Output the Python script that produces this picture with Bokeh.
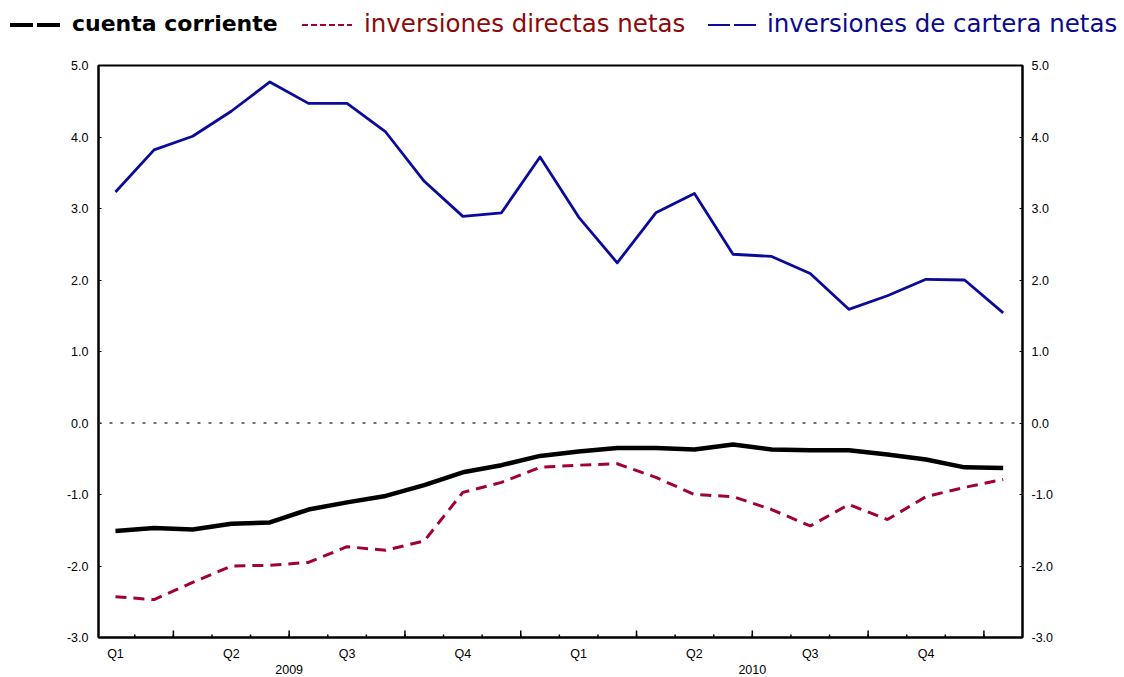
from bokeh.plotting import figure
from bokeh.models import (Range1d, LinearAxis, FixedTicker, PrintfTickFormatter,
                          Span, Div)
from bokeh.layouts import column
from bokeh.embed import file_html
from bokeh.resources import INLINE
import numpy as np

# ---------------- data ----------------
months = ["2009-01", "2009-02", "2009-03", "2009-04", "2009-05", "2009-06",
          "2009-07", "2009-08", "2009-09", "2009-10", "2009-11", "2009-12",
          "2010-01", "2010-02", "2010-03", "2010-04", "2010-05", "2010-06",
          "2010-07", "2010-08", "2010-09", "2010-10", "2010-11", "2010-12"]

cuenta_corriente = [-1.51, -1.47, -1.49, -1.41, -1.39, -1.21, -1.11, -1.02,
                    -0.87, -0.69, -0.59, -0.46, -0.40, -0.35, -0.35, -0.37,
                    -0.30, -0.37, -0.38, -0.38, -0.44, -0.51, -0.62, -0.63]

inversiones_directas = [-2.43, -2.47, -2.23, -2.00, -1.99, -1.95, -1.73, -1.78,
                        -1.65, -0.97, -0.83, -0.62, -0.59, -0.57, -0.76, -1.00,
                        -1.03, -1.21, -1.44, -1.14, -1.35, -1.03, -0.90, -0.79]

inversiones_cartera = [3.23, 3.82, 4.01, 4.36, 4.77, 4.47, 4.47, 4.07,
                       3.38, 2.89, 2.94, 3.72, 2.88, 2.24, 2.94, 3.21,
                       2.36, 2.33, 2.09, 1.59, 1.78, 2.01, 2.00, 1.54]

series_names = ["cuenta corriente", "inversiones directas netas",
                "inversiones de cartera netas"]

quarter_labels = ["Q1", "Q2", "Q3", "Q4", "Q1", "Q2", "Q3", "Q4"]
year_labels = ["2009", "2010"]
y_ticks = [-3, -2, -1, 0, 1, 2, 3, 4, 5]

# ---------------- styles ----------------
BLACK = "#000000"
RED = "#a0003c"
BLUE = "#0b0b9a"
RED_TXT = "#8c0a0a"
BLUE_TXT = "#0b0b8c"
TICK_FONT = "Liberation Sans"
TICK_SIZE = "12.5px"

x = np.arange(len(months))
quarter_pos = [int(v) for v in x[::3]]
quarter_bounds = [float(v) + 0.5 for v in x[1::3]]
month_bounds = [float(v) + 0.5 for v in x[:-1]]
year_pos = [float(np.mean(x[:12])) - 1.0, float(np.mean(x[12:])) - 1.0]

W = 1120

# ---------------- legend strip (HTML) ----------------
def sample(left, width, color, thick, dash, gap):
    return (f'<div style="position:absolute;left:{left}px;top:{25 - thick / 2}px;'
            f'width:{width}px;height:{thick}px;background:repeating-linear-gradient('
            f'to right,{color} 0px,{color} {dash}px,transparent {dash}px,'
            f'transparent {dash + gap}px);"></div>')

def text(left, top, size, color, weight, s):
    return (f'<div style="position:absolute;left:{left}px;top:{top}px;'
            f'font-family:\'DejaVu Sans\';font-size:{size}px;line-height:{size}px;'
            f'font-weight:{weight};color:{color};white-space:nowrap;">{s}</div>')

html = ('<div style="position:relative;width:%dpx;height:44px;">' % W
        + sample(10, 50, BLACK, 3.5, 23, 4)
        + text(72, 13.4, 22, BLACK, "bold", series_names[0])
        + sample(302, 50, RED, 2, 6, 3)
        + text(364, 11.5, 24.5, RED_TXT, "normal", series_names[1])
        + sample(708, 48, BLUE, 2, 22, 4)
        + text(767, 11.5, 24.5, BLUE_TXT, "normal", series_names[2])
        + '</div>')
leg = Div(text=html, width=W, height=44, margin=(0, 0, 0, 0))

# ---------------- main chart ----------------
H = 633
TOP, BOTTOM = 21, 40
p = figure(width=W, height=H, x_range=Range1d(-0.44, 23.5), y_range=Range1d(-3, 5),
           output_backend="svg", toolbar_location=None,
           x_axis_location=None, y_axis_location=None,
           min_border_left=98, min_border_right=W - 1022,
           min_border_top=TOP, min_border_bottom=BOTTOM,
           outline_line_color=BLACK, outline_line_width=2)
p.grid.visible = False

def y_axis(standoff):
    ax = LinearAxis(ticker=FixedTicker(ticks=y_ticks, minor_ticks=[]),
                    formatter=PrintfTickFormatter(format="%.1f"))
    ax.axis_line_color = BLACK
    ax.axis_line_width = 2
    ax.major_tick_in = 3
    ax.major_tick_out = 0
    ax.major_tick_line_color = BLACK
    ax.minor_tick_line_color = None
    ax.major_label_standoff = standoff
    ax.major_label_text_font = TICK_FONT
    ax.major_label_text_font_size = TICK_SIZE
    ax.major_label_text_color = BLACK
    return ax

p.add_layout(y_axis(10), "left")
p.add_layout(y_axis(9), "right")

def label_axis(ticks, labels, standoff):
    ax = LinearAxis(ticker=FixedTicker(ticks=ticks, minor_ticks=[]),
                    major_label_overrides={t: l for t, l in zip(ticks, labels)})
    ax.axis_line_color = None
    ax.major_tick_line_color = None
    ax.minor_tick_line_color = None
    ax.major_tick_in = 0
    ax.major_tick_out = 0
    ax.minor_tick_in = 0
    ax.minor_tick_out = 0
    ax.major_label_standoff = standoff
    ax.major_label_text_font = TICK_FONT
    ax.major_label_text_font_size = TICK_SIZE
    ax.major_label_text_color = BLACK
    return ax

ax_q = label_axis(quarter_pos, quarter_labels, 9)
ax_q.axis_line_color = BLACK
ax_q.axis_line_width = 2
p.add_layout(ax_q, "below")
p.add_layout(label_axis(year_pos, year_labels, 1), "below")

# inward x ticks along the bottom edge (month boundaries short, quarter boundaries tall)
px_per_unit = (H - TOP - BOTTOM) / 8.0
p.segment(x0=month_bounds, y0=[-3] * len(month_bounds), x1=month_bounds,
          y1=[-3 + 3 / px_per_unit] * len(month_bounds),
          line_color=BLACK, line_width=1.5)
p.segment(x0=quarter_bounds, y0=[-3] * len(quarter_bounds), x1=quarter_bounds,
          y1=[-3 + 7 / px_per_unit] * len(quarter_bounds),
          line_color=BLACK, line_width=1.5)

p.add_layout(Span(location=0, dimension="width", line_color="#444444",
                  line_width=1.5, line_dash="3 8"))

p.line(x, inversiones_cartera, line_color=BLUE, line_width=2.8, line_join="round")
p.line(x, inversiones_directas, line_color=RED, line_width=3, line_dash="11 7")
p.line(x, cuenta_corriente, line_color=BLACK, line_width=4.5, line_join="round")

layout = column(leg, p, spacing=0)
open("out.html", "w").write(file_html(layout, INLINE))
